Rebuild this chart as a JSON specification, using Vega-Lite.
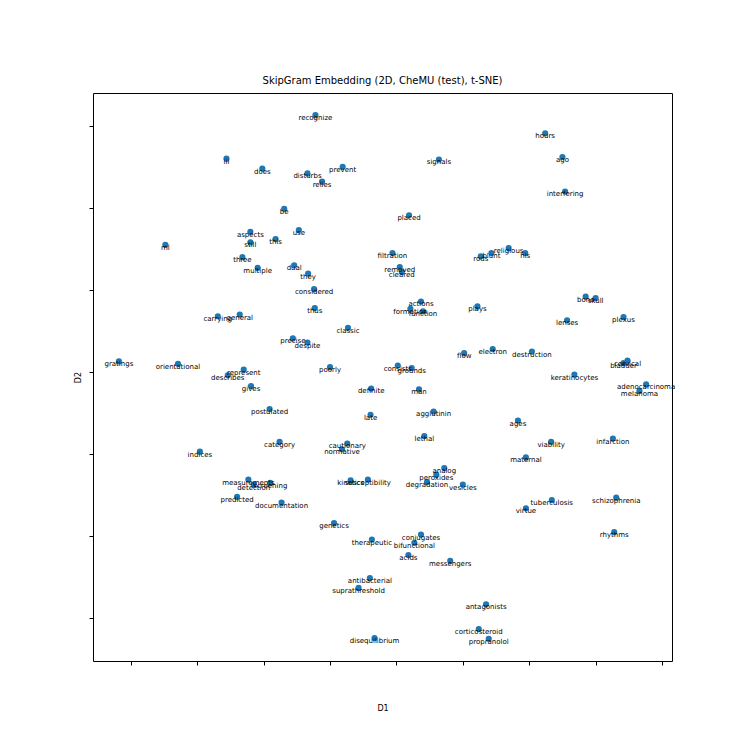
{
  "$schema": "https://vega.github.io/schema/vega-lite/v6.json",
  "autosize": "none",
  "padding": {"left": 93, "top": 93, "right": 75, "bottom": 86},
  "width": 579,
  "height": 568,
  "background": "white",
  "title": {"text": "SkipGram Embedding (2D, CheMU (test), t-SNE)", "font": "DejaVu Sans", "fontSize": 10, "fontWeight": "normal", "color": "black", "offset": 7},
  "config": {
    "view": {"stroke": "black", "strokeWidth": 1},
    "axis": {"grid": false, "labels": false, "domain": false, "ticks": true, "tickColor": "black", "tickSize": 4, "titleFont": "DejaVu Sans", "titleFontSize": 8, "titleFontWeight": "normal", "titleColor": "black"}
  },
  "data": {"values": [
    {"word": "iii", "x": -25.6, "y": 26.0},
    {"word": "does", "x": -20.2, "y": 24.8},
    {"word": "be", "x": -16.9, "y": 19.9},
    {"word": "aspects", "x": -22.0, "y": 17.1},
    {"word": "still", "x": -22.0, "y": 15.8},
    {"word": "this", "x": -18.2, "y": 16.2},
    {"word": "ml", "x": -34.8, "y": 15.5},
    {"word": "three", "x": -23.2, "y": 14.0},
    {"word": "multiple", "x": -20.9, "y": 12.7},
    {"word": "recognize", "x": -12.2, "y": 31.3},
    {"word": "prevent", "x": -8.1, "y": 25.0},
    {"word": "disturbs", "x": -13.4, "y": 24.2},
    {"word": "relies", "x": -11.2, "y": 23.2},
    {"word": "signals", "x": 6.4, "y": 25.9},
    {"word": "placed", "x": 1.9, "y": 19.1},
    {"word": "use", "x": -14.7, "y": 17.3},
    {"word": "filtration", "x": -0.6, "y": 14.5},
    {"word": "dual", "x": -15.4, "y": 13.0},
    {"word": "they", "x": -13.3, "y": 12.0},
    {"word": "removed", "x": 0.5, "y": 12.8},
    {"word": "cleared", "x": 0.8, "y": 12.2},
    {"word": "considered", "x": -12.4, "y": 10.1},
    {"word": "hours", "x": 22.4, "y": 29.1},
    {"word": "ago", "x": 25.0, "y": 26.2},
    {"word": "interfering", "x": 25.4, "y": 22.0},
    {"word": "religious", "x": 16.9, "y": 15.1},
    {"word": "his", "x": 19.4, "y": 14.5},
    {"word": "blunt", "x": 14.3, "y": 14.5},
    {"word": "rods", "x": 12.7, "y": 14.1},
    {"word": "bone", "x": 28.5, "y": 9.2},
    {"word": "skull", "x": 30.0, "y": 9.0},
    {"word": "carrying", "x": -26.9, "y": 6.8},
    {"word": "general", "x": -23.6, "y": 7.0},
    {"word": "gratings", "x": -41.8, "y": 1.3},
    {"word": "orientational", "x": -32.9, "y": 1.0},
    {"word": "represent", "x": -23.0, "y": 0.3},
    {"word": "describes", "x": -25.4, "y": -0.4},
    {"word": "gives", "x": -21.9, "y": -1.7},
    {"word": "postulated", "x": -19.1, "y": -4.5},
    {"word": "category", "x": -17.6, "y": -8.5},
    {"word": "indices", "x": -29.6, "y": -9.7},
    {"word": "thus", "x": -12.3, "y": 7.8},
    {"word": "actions", "x": 3.7, "y": 8.6},
    {"word": "formation", "x": 2.1, "y": 7.7},
    {"word": "function", "x": 4.0, "y": 7.4},
    {"word": "plays", "x": 12.2, "y": 8.0},
    {"word": "classic", "x": -7.3, "y": 5.4},
    {"word": "precise", "x": -15.6, "y": 4.1},
    {"word": "despite", "x": -13.4, "y": 3.6},
    {"word": "flow", "x": 10.2, "y": 2.3},
    {"word": "poorly", "x": -10.0, "y": 0.6},
    {"word": "consists", "x": 0.2, "y": 0.8},
    {"word": "grounds", "x": 2.3, "y": 0.5},
    {"word": "definite", "x": -3.8, "y": -2.0},
    {"word": "man", "x": 3.4, "y": -2.1},
    {"word": "late", "x": -3.9, "y": -5.2},
    {"word": "agglutinin", "x": 5.6, "y": -4.8},
    {"word": "lethal", "x": 4.2, "y": -7.8},
    {"word": "cautionary", "x": -7.4, "y": -8.7},
    {"word": "normative", "x": -8.2, "y": -9.4},
    {"word": "analog", "x": 7.2, "y": -11.7},
    {"word": "peroxides", "x": 6.0, "y": -12.5},
    {"word": "lenses", "x": 25.7, "y": 6.3},
    {"word": "plexus", "x": 34.2, "y": 6.7},
    {"word": "electron", "x": 14.5, "y": 2.8},
    {"word": "destruction", "x": 20.4, "y": 2.5},
    {"word": "cervical", "x": 34.8, "y": 1.4},
    {"word": "bladder", "x": 34.2, "y": 1.1},
    {"word": "keratinocytes", "x": 26.8, "y": -0.3},
    {"word": "adenocarcinoma", "x": 37.6, "y": -1.5},
    {"word": "melanoma", "x": 36.6, "y": -2.3},
    {"word": "ages", "x": 18.3, "y": -5.9},
    {"word": "viability", "x": 23.3, "y": -8.5},
    {"word": "infarction", "x": 32.6, "y": -8.1},
    {"word": "maternal", "x": 19.5, "y": -10.4},
    {"word": "measurements", "x": -22.3, "y": -13.1},
    {"word": "detection", "x": -21.5, "y": -13.7},
    {"word": "screening", "x": -19.0, "y": -13.5},
    {"word": "predicted", "x": -24.0, "y": -15.2},
    {"word": "documentation", "x": -17.3, "y": -15.9},
    {"word": "kinetics", "x": -6.9, "y": -13.2},
    {"word": "susceptibility", "x": -4.3, "y": -13.1},
    {"word": "degradation", "x": 4.6, "y": -13.4},
    {"word": "vesicles", "x": 10.0, "y": -13.7},
    {"word": "genetics", "x": -9.4, "y": -18.4},
    {"word": "therapeutic", "x": -3.7, "y": -20.4},
    {"word": "conjugates", "x": 3.7, "y": -19.8},
    {"word": "bifunctional", "x": 2.7, "y": -20.8},
    {"word": "acids", "x": 1.8, "y": -22.3},
    {"word": "messengers", "x": 8.1, "y": -23.0},
    {"word": "antibacterial", "x": -4.0, "y": -25.1},
    {"word": "suprathreshold", "x": -5.7, "y": -26.3},
    {"word": "disequilibrium", "x": -3.3, "y": -32.4},
    {"word": "tuberculosis", "x": 23.4, "y": -15.6},
    {"word": "virtue", "x": 19.5, "y": -16.6},
    {"word": "schizophrenia", "x": 33.1, "y": -15.3},
    {"word": "rhythms", "x": 32.8, "y": -19.5},
    {"word": "antagonists", "x": 13.5, "y": -28.3},
    {"word": "corticosteroid", "x": 12.4, "y": -31.3},
    {"word": "propranolol", "x": 13.9, "y": -32.5}
  ]},
  "encoding": {
    "x": {"field": "x", "type": "quantitative", "title": "D1", "scale": {"domain": [-45.7, 41.5], "nice": false, "zero": false}, "axis": {"values": [-40, -30, -20, -10, 0, 10, 20, 30, 40], "titlePadding": 39}},
    "y": {"field": "y", "type": "quantitative", "title": "D2", "scale": {"domain": [-35.2, 34.0], "nice": false, "zero": false}, "axis": {"values": [-30, -20, -10, 0, 10, 20, 30], "titlePadding": 6}}
  },
  "layer": [
    {"mark": {"type": "point", "filled": true, "size": 38, "color": "#1f77b4", "opacity": 1}},
    {"mark": {"type": "text", "font": "DejaVu Sans", "fontSize": 7, "color": "black", "baseline": "middle", "align": "center", "dy": 3}, "encoding": {"text": {"field": "word"}}}
  ]
}
